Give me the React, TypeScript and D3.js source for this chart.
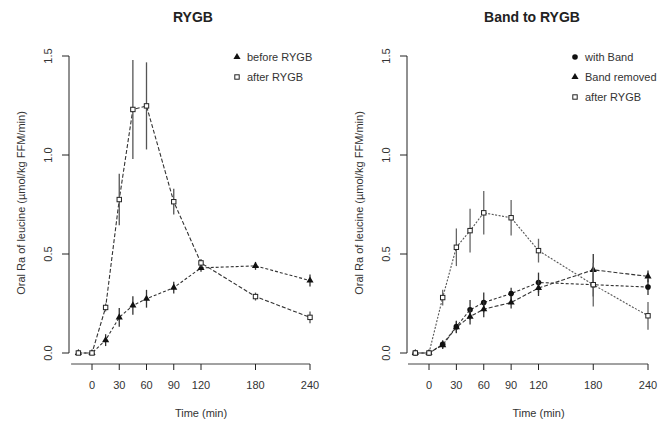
import React from "react";
import * as d3 from "d3";

// Sampling times (min) shared by all series
const times = [-15, 0, 15, 30, 45, 60, 90, 120, 180, 240];
const xTicks = [0, 30, 60, 90, 120, 180, 240];
const yTicks = [0, 0.5, 1.0, 1.5];

// RYGB panel
const beforeRYGB = [0, 0, 0.065, 0.18, 0.24, 0.274, 0.33, 0.43, 0.44, 0.366];
const beforeRYGBErr = [0, 0, 0.03, 0.047, 0.047, 0.045, 0.03, 0.02, 0.02, 0.03];
const afterRYGB1 = [0, 0, 0.23, 0.775, 1.23, 1.248, 0.764, 0.455, 0.285, 0.18];
const afterRYGB1Err = [0, 0, 0.02, 0.13, 0.25, 0.22, 0.065, 0.02, 0.02, 0.03];

// Band to RYGB panel
const withBand = [0, 0, 0.044, 0.133, 0.218, 0.255, 0.3, 0.356, 0.345, 0.333];
const withBandErr = [0, 0, 0.02, 0.03, 0.05, 0.05, 0.03, 0.05, 0.06, 0.04];
const bandRemoved = [0, 0, 0.04, 0.13, 0.184, 0.221, 0.255, 0.328, 0.42, 0.387];
const bandRemovedErr = [0, 0, 0.02, 0.03, 0.04, 0.04, 0.03, 0.04, 0.08, 0.03];
const afterRYGB2 = [0, 0, 0.28, 0.534, 0.618, 0.708, 0.683, 0.517, 0.345, 0.188];
const afterRYGB2Err = [0, 0, 0.04, 0.095, 0.11, 0.11, 0.09, 0.06, 0.11, 0.07];

type Shape = "triangle" | "square" | "circle";

interface Series {
  name: string;
  values: number[];
  errors: number[];
  shape: Shape;
  dash: string;
  lineColor: string;
  errColor: string;
}

interface Panel {
  title: string;
  titleX: number;
  x0: number;
  x1: number;
  yAxisX: number;
  legendX: number;
  series: Series[];
}

const panels: Panel[] = [
  {
    title: "RYGB",
    titleX: 193,
    x0: 92,
    x1: 310,
    yAxisX: 69,
    legendX: 237,
    series: [
      { name: "before RYGB", values: beforeRYGB, errors: beforeRYGBErr, shape: "triangle", dash: "3,2", lineColor: "#333", errColor: "#333" },
      { name: "after RYGB", values: afterRYGB1, errors: afterRYGB1Err, shape: "square", dash: "4,2", lineColor: "#333", errColor: "#555" },
    ],
  },
  {
    title: "Band to RYGB",
    titleX: 532,
    x0: 429,
    x1: 648,
    yAxisX: 407,
    legendX: 575,
    series: [
      { name: "with Band", values: withBand, errors: withBandErr, shape: "circle", dash: "3,2", lineColor: "#333", errColor: "#333" },
      { name: "Band removed", values: bandRemoved, errors: bandRemovedErr, shape: "triangle", dash: "4,2", lineColor: "#333", errColor: "#333" },
      { name: "after RYGB", values: afterRYGB2, errors: afterRYGB2Err, shape: "square", dash: "2,1.5", lineColor: "#555", errColor: "#666" },
    ],
  },
];

const y = d3.scaleLinear().domain([0, 1.5]).range([353, 56]);
const font = "Liberation Sans, Arial, sans-serif";

function Marker({ shape, cx, cy }: { shape: Shape; cx: number; cy: number }) {
  if (shape === "triangle") {
    const p = d3.symbol(d3.symbolTriangle, 22)()!;
    return <path d={p} transform={`translate(${cx},${cy})`} fill="#111" />;
  }
  if (shape === "circle") {
    return <circle cx={cx} cy={cy} r={2.8} fill="#111" />;
  }
  return <rect x={cx - 2.2} y={cy - 2.2} width={4.4} height={4.4} fill="#fff" stroke="#222" strokeWidth={1} />;
}

function PanelView({ p }: { p: Panel }) {
  const x = d3.scaleLinear().domain([0, 240]).range([p.x0, p.x1]);
  const line = d3
    .line<number>()
    .x((_, i) => x(times[i]))
    .y((v) => y(v));
  return (
    <g fontFamily={font}>
      <text x={p.titleX} y={22} textAnchor="middle" fontSize={14} fontWeight="bold" fill="#222">
        {p.title}
      </text>
      {/* y axis */}
      <line x1={p.yAxisX} x2={p.yAxisX} y1={y(0)} y2={y(1.5)} stroke="#222" strokeWidth={1} />
      {yTicks.map((t) => (
        <g key={t}>
          <line x1={p.yAxisX - 7} x2={p.yAxisX} y1={y(t)} y2={y(t)} stroke="#222" />
          <text
            transform={`translate(${p.yAxisX - 17},${y(t)}) rotate(-90)`}
            textAnchor="middle"
            fontSize={11}
            fill="#333"
          >
            {t.toFixed(1)}
          </text>
        </g>
      ))}
      <text
        transform={`translate(${p.yAxisX - 44},${203}) rotate(-90)`}
        textAnchor="middle"
        fontSize={11}
        fill="#333"
      >
        Oral Ra of leucine (µmol/kg FFM/min)
      </text>
      {/* x axis */}
      <line x1={x(-23)} x2={x(240)} y1={364} y2={364} stroke="#444" />
      {xTicks.map((t) => (
        <g key={t}>
          <line x1={x(t)} x2={x(t)} y1={364} y2={370} stroke="#222" />
          <text x={x(t)} y={389} textAnchor="middle" fontSize={11} fill="#333">
            {t}
          </text>
        </g>
      ))}
      <text x={(p.x0 + p.x1) / 2} y={417} textAnchor="middle" fontSize={11} fill="#333">
        Time (min)
      </text>
      {/* series */}
      {p.series.map((s) => (
        <g key={s.name}>
          <path d={line(s.values)!} fill="none" stroke={s.lineColor} strokeWidth={1.1} strokeDasharray={s.dash} />
          {s.values.map((v, i) =>
            s.errors[i] > 0 ? (
              <line
                key={"e" + i}
                x1={x(times[i])}
                x2={x(times[i])}
                y1={y(v - s.errors[i])}
                y2={y(v + s.errors[i])}
                stroke={s.errColor}
                strokeWidth={1.3}
              />
            ) : null
          )}
          {s.values.map((v, i) => (
            <Marker key={"m" + i} shape={s.shape} cx={x(times[i])} cy={y(v)} />
          ))}
        </g>
      ))}
      {/* legend */}
      {p.series.map((s, i) => (
        <g key={"l" + s.name}>
          <Marker shape={s.shape} cx={p.legendX} cy={57 + i * 20} />
          <text x={p.legendX + 10} y={61 + i * 20} fontSize={11} fill="#333">
            {s.name}
          </text>
        </g>
      ))}
    </g>
  );
}

export default function App() {
  return (
    <svg width={665} height={421} style={{ position: "absolute", left: 0, top: 0, background: "#fff" }}>
      <rect width={665} height={421} fill="#fff" />
      {panels.map((p) => (
        <PanelView key={p.title} p={p} />
      ))}
    </svg>
  );
}
